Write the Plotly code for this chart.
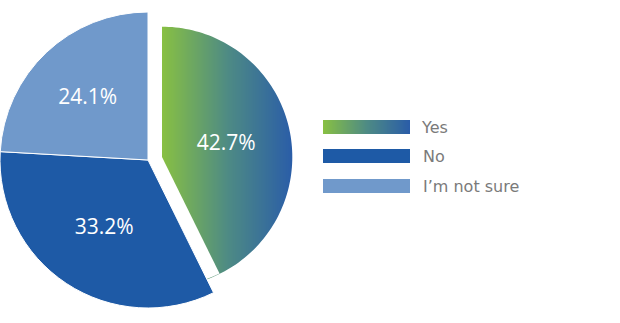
import base64
import math
import struct
import zlib

import plotly.graph_objects as go

# ---- data ----
labels = ["Yes", "No", "I\u2019m not sure"]
values = [42.7, 33.2, 24.1]
colors = ["#4f8c82", "#1e5aa6", "#7099cb"]
yes_grad = ["#88c043", "#4e8b84", "#2a5da8"]   # gradient stops for "Yes"

W, H = 620, 323
total = sum(values)
pct = [f"{v / total * 100:.1f}%" for v in values]

# pie geometry (pixels): main pie and exploded slice
main_cx, main_cy, main_r = 148, 160, 148
pull_cx, pull_cy, pull_r = 162, 157, 130


def px_x(x):
    return x / W


def px_y(y):
    return 1 - y / H


def hex2rgb(h):
    h = h.lstrip("#")
    return tuple(int(h[i:i + 2], 16) for i in (0, 2, 4))


def grad_color(t, stops):
    cs = [hex2rgb(s) for s in stops]
    seg = t * (len(cs) - 1)
    k = min(int(seg), len(cs) - 2)
    f = seg - k
    return tuple(round(cs[k][j] + (cs[k + 1][j] - cs[k][j]) * f) for j in range(3))


def gradient_png(stops, w=256, h=2):
    row = b"".join(bytes(grad_color(x / (w - 1), stops)) for x in range(w))
    raw = b"".join(b"\x00" + row for _ in range(h))

    def chunk(tag, data):
        c = struct.pack(">I", len(data)) + tag + data
        return c + struct.pack(">I", zlib.crc32(tag + data) & 0xffffffff)

    png = b"\x89PNG\r\n\x1a\n" + chunk(b"IHDR", struct.pack(">IIBBBBB", w, h, 8, 2, 0, 0, 0)) \
        + chunk(b"IDAT", zlib.compress(raw, 9)) + chunk(b"IEND", b"")
    return "data:image/png;base64," + base64.b64encode(png).decode()


label_font = dict(family="Open Sans", size=21, color="white", weight=500)
clear = "rgba(0,0,0,0)"

fig = go.Figure()

# exploded "Yes" slice (its fill is the gradient shown through it)
fig.add_trace(go.Pie(
    labels=labels, values=values, sort=False, direction="clockwise", rotation=0,
    marker=dict(colors=[clear, "white", "white"], line=dict(width=0)),
    text=[pct[0], "", ""], textinfo="text", textposition="inside",
    insidetextorientation="horizontal", textfont=label_font,
    domain=dict(x=[px_x(pull_cx - pull_r), px_x(pull_cx + pull_r)],
                y=[px_y(pull_cy + pull_r), px_y(pull_cy - pull_r)]),
    showlegend=False, hoverinfo="label+percent",
))

# main pie (No / I'm not sure)
fig.add_trace(go.Pie(
    labels=labels, values=values, sort=False, direction="clockwise", rotation=0,
    marker=dict(colors=[clear, colors[1], colors[2]],
                line=dict(color=[clear, "white", "white"], width=1)),
    text=["", pct[1], pct[2]], textinfo="text", textposition="inside",
    insidetextorientation="horizontal", textfont=label_font,
    domain=dict(x=[px_x(main_cx - main_r), px_x(main_cx + main_r)],
                y=[px_y(main_cy + main_r), px_y(main_cy - main_r)]),
    showlegend=False, hoverinfo="label+percent",
))

grad_src = gradient_png(yes_grad)
images = [dict(source=grad_src, xref="paper", yref="paper",
               x=px_x(pull_cx), y=px_y(pull_cy - pull_r - 2),
               sizex=px_x(pull_r + 1), sizey=(2 * pull_r + 4) / H,
               sizing="stretch", xanchor="left", yanchor="top", layer="below")]

# white mask around the exploded slice's circle
pts = []
n = 240
for k in range(n + 1):
    a = -2 * math.pi * k / n
    pts.append((px_x(pull_cx + (pull_r + 0.3) * math.cos(a)),
                px_y(pull_cy + (pull_r + 0.3) * math.sin(a))))
mx0, mx1 = px_x(pull_cx - 4), px_x(pull_cx + pull_r + 6)
my0, my1 = px_y(pull_cy + pull_r + 8), px_y(pull_cy - pull_r - 8)
path = f"M{mx0},{my0}L{mx1},{my0}L{mx1},{my1}L{mx0},{my1}Z"
path += "M" + "L".join(f"{x:.5f},{y:.5f}" for x, y in pts) + "Z"

shapes = [dict(type="path", path=path, xref="paper", yref="paper",
               fillcolor="white", line=dict(width=0), layer="below")]
annotations = []

# ---- custom legend (wide swatches) ----
sw_x0, sw_x1 = 323, 410
rows_y = [120, 149, 179]
sw_h = 14
for i, lab in enumerate(labels):
    y0 = rows_y[i]
    if i == 0:
        images.append(dict(source=grad_src, xref="paper", yref="paper",
                           x=px_x(sw_x0), y=px_y(y0),
                           sizex=(sw_x1 - sw_x0) / W, sizey=sw_h / H,
                           sizing="stretch", xanchor="left", yanchor="top",
                           layer="above"))
    else:
        shapes.append(dict(type="rect", xref="paper", yref="paper",
                           x0=px_x(sw_x0), x1=px_x(sw_x1),
                           y0=px_y(y0 + sw_h), y1=px_y(y0),
                           fillcolor=colors[i], line=dict(width=0), layer="above"))
    annotations.append(dict(text=lab, xref="paper", yref="paper",
                            x=px_x(419 if i == 0 else 421), y=px_y(y0 + sw_h / 2),
                            xanchor="left", yanchor="middle", showarrow=False,
                            font=dict(family="DejaVu Sans", size=16, color="#7a7a7a")))

fig.update_layout(
    width=W, height=H, margin=dict(l=0, r=0, t=0, b=0),
    paper_bgcolor="white", plot_bgcolor="white",
    shapes=shapes, annotations=annotations, images=images,
)

fig.write_html("out.html")
